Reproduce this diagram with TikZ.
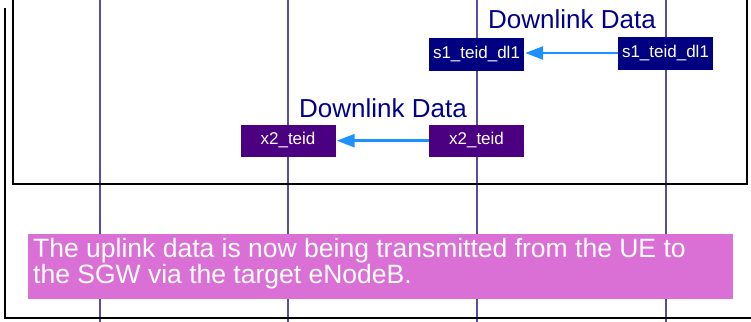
\documentclass[tikz,border=0pt]{standalone}
\usepackage{fontspec}
\setmainfont{Liberation Sans}
\usetikzlibrary{arrows.meta}
\definecolor{lifec}{RGB}{88,78,160}
\definecolor{navybox}{RGB}{0,0,128}
\definecolor{indigobox}{RGB}{75,0,130}
\definecolor{notec}{RGB}{218,112,214}
\definecolor{arrowc}{RGB}{30,144,255}
\definecolor{labelc}{RGB}{0,0,140}
\tikzset{
  lifeline/.style={draw=lifec, line width=1.4pt},
  frameline/.style={draw=black, line width=2pt},
  teidbox/.style={rectangle, inner sep=0pt, minimum height=33pt, minimum width=95pt, text=white, font=\fontsize{17}{17}\selectfont},
  s1box/.style={teidbox, fill=navybox},
  x2box/.style={teidbox, fill=indigobox, minimum height=32pt},
  dllabel/.style={text=labelc, font=\fontsize{26}{26}\selectfont, inner sep=0pt, anchor=base},
  dlarrow/.style={draw=arrowc, line width=2.6pt, -{Triangle[length=18pt,width=13pt]}, shorten >=1pt},
  notebox/.style={rectangle, fill=notec, inner sep=0pt, minimum width=705pt, minimum height=65pt},
  notetext/.style={text=white, font=\fontsize{26.5}{23.8}\selectfont, inner sep=0pt, align=left, anchor=base west}
}
\begin{document}
\begin{tikzpicture}[x=1pt,y=-1pt]
\useasboundingbox (0,0) rectangle (751,321);
\clip (0,0) rectangle (751,321);
% lifelines
\foreach \lx/\nm in {100/A,288/B,477/C,666/D}{
  \coordinate (\nm top) at (\lx,-5);
  \coordinate (\nm bot) at (\lx,330);
  \draw[lifeline] (\nm top) -- (\nm bot);
}
% frames
\coordinate (ib1) at (13,-10);
\coordinate (ib2) at (13,184);
\coordinate (ib3) at (747,184);
\coordinate (ib4) at (747,-10);
\draw[frameline] (ib1) -- (ib2) -- (ib3) -- (ib4);
\coordinate (ob1) at (5,8);
\coordinate (ob2) at (5,318);
\coordinate (ob3) at (760,318);
\draw[frameline] (ob1) -- (ob2) -- (ob3);
% downlink 1
\node[dllabel] (dl1) at (572,29) {Downlink Data};
\node[s1box] (s1l) at (476.5,54.5) {s1\_teid\_dl1};
\node[s1box] (s1r) at (665.5,53.5) {s1\_teid\_dl1};
\draw[dlarrow] (s1r.west |- 0,53) -- (s1l.east |- 0,53);
% downlink 2
\node[dllabel] (dl2) at (383,117) {Downlink Data};
\node[x2box] (x2l) at (288,140.5) {x2\_teid};
\node[x2box] (x2r) at (476.5,140.5) {x2\_teid};
\draw[dlarrow] (x2r.west |- 0,140.7) -- (x2l.east |- 0,140.7);
% note
\node[notebox] (note) at (380.5,266.3) {};
\node[notetext] (nt) at (33,283.5) {The uplink data is now being transmitted from the UE to\\the SGW via the target eNodeB.};
\end{tikzpicture}
\end{document}
